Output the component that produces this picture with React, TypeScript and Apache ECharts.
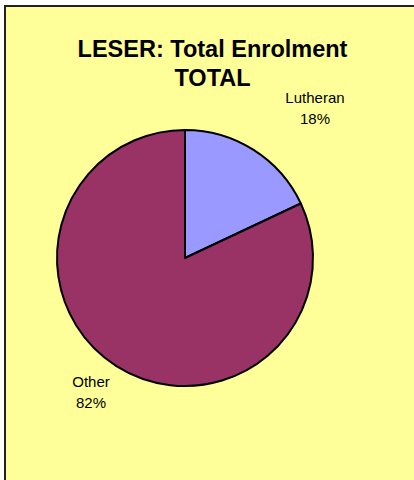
import React, { useEffect, useRef } from "react";
import * as echarts from "echarts";

const categories = ["Lutheran", "Other"];
const values = [18, 82];
const colors = ["#9999FF", "#993366"];
const titleLines = ["LESER: Total Enrolment", "TOTAL"];

export default function App() {
  const ref = useRef<HTMLDivElement>(null);
  useEffect(() => {
    document.body.style.margin = "0";
    const chart = echarts.init(ref.current!, undefined, { renderer: "svg" });
    const offsets = [
      [43, -21],
      [-7, 5],
    ];
    chart.setOption({
      animation: false,
      backgroundColor: "#ffffff",
      graphic: [
        {
          type: "rect",
          z: -10,
          shape: { x: 5, y: 6, width: 430, height: 500 },
          style: { fill: "#FFFF99", stroke: "#222222", lineWidth: 2 },
        },
      ],
      title: {
        text: titleLines.join("\n"),
        left: 212.5,
        textAlign: "center",
        top: 34,
        padding: 0,
        textStyle: {
          fontFamily: "Liberation Sans, Arial, sans-serif",
          fontWeight: "bold",
          fontSize: 23.5,
          lineHeight: 29,
          color: "#000000",
        },
      },
      series: [
        {
          type: "pie",
          center: [185, 258],
          radius: 128,
          startAngle: 90,
          clockwise: true,
          silent: true,
          data: categories.map((name, i) => ({
            name,
            value: values[i],
            itemStyle: { color: colors[i] },
          })),
          itemStyle: { borderColor: "#000000", borderWidth: 2 },
          label: {
            show: true,
            position: "outside",
            formatter: "{b}\n{d}%",
            fontFamily: "Liberation Sans, Arial, sans-serif",
            fontSize: 15,
            lineHeight: 21,
            color: "#000000",
          },
          labelLine: { show: false, length: 25, length2: 0 },
          labelLayout: (p: any) => {
            const o = offsets[p.dataIndex] || [0, 0];
            return { dx: o[0], dy: o[1], align: "center" };
          },
        },
      ],
    });
    return () => chart.dispose();
  }, []);
  return (
    <div
      ref={ref}
      style={{ position: "absolute", left: 0, top: 0, width: 414, height: 480 }}
    />
  );
}
